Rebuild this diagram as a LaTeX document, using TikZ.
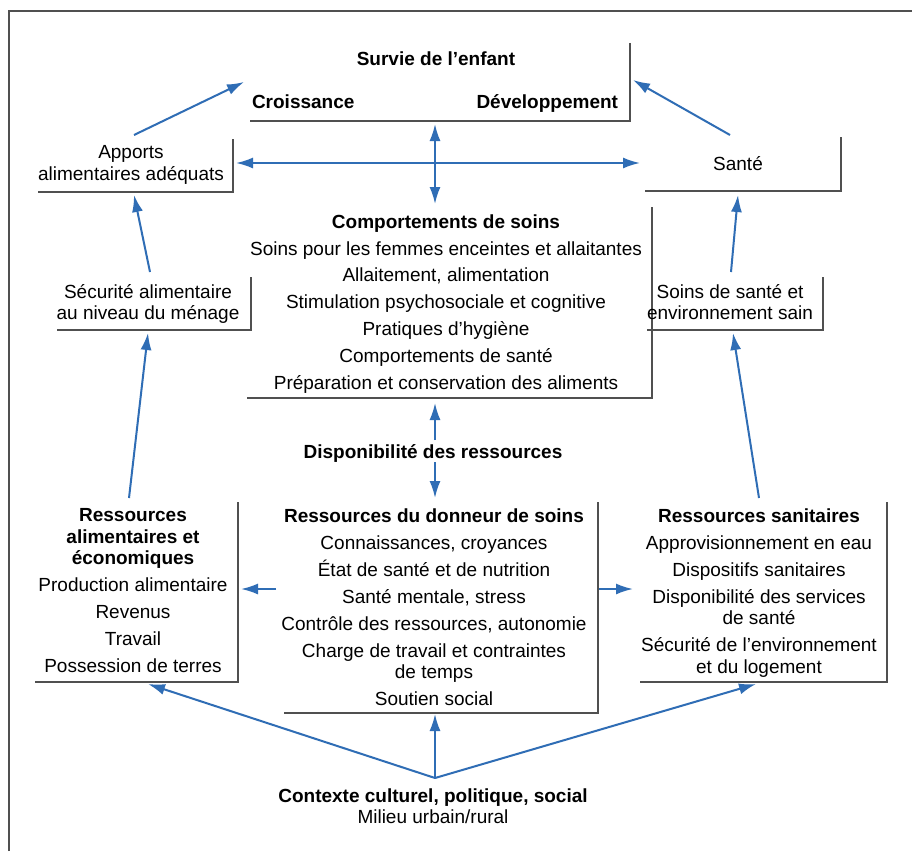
\documentclass[tikz,border=0pt]{standalone}
\usepackage{fontspec}
\setmainfont{Liberation Sans}
\usetikzlibrary{arrows.meta,calc}
\definecolor{arrowblue}{HTML}{2F6DB5}
\definecolor{edgegray}{HTML}{505050}
\newcommand{\mkbox}[5]{%
  \node[inner sep=0pt,outer sep=0pt,minimum width={#4-#2},minimum height={#5-#3}] (#1) at ({(#2+#4)/2},{(#3+#5)/2}) {};
  \draw[edge] (#1.north east) -- (#1.south east) -- (#1.south west);}
\begin{document}
\begin{tikzpicture}[x=1pt,y=-1pt,
  edge/.style={draw=edgegray,line width=2.2pt},
  conn/.style={draw=arrowblue,line width=2pt,-{Latex[length=17pt,width=11pt]}},
  dconn/.style={draw=arrowblue,line width=2pt,{Latex[length=17pt,width=11pt]}-{Latex[length=17pt,width=11pt]}},
  lbl/.style={inner sep=0pt,outer sep=0pt,align=center,anchor=north,font=\fontsize{19}{21.5}\selectfont}]
\useasboundingbox (0,0) rectangle (912,851);
\fill[white] (0,0) rectangle (912,851);
\draw[edge] (9,851) -- (9,11) -- (912,11);

% boxes
\mkbox{survie}{250}{43}{630}{121}
\mkbox{apports}{38}{139}{233}{192}
\mkbox{sante}{645}{137}{841}{191}
\mkbox{comport}{247}{207}{652}{398}
\mkbox{secur}{57}{277}{251}{330}
\mkbox{soins}{647}{277}{823}{330}
\mkbox{ressal}{35}{502}{238}{682}
\mkbox{donneur}{284}{502}{598}{713}
\mkbox{sanit}{640}{502}{887}{682}

% texts
\node[lbl] (tsurvie) at (436,51.5) {\bfseries Survie de l’enfant};
\node[lbl,anchor=north west] (tcroiss) at (252,94.5) {\bfseries Croissance};
\node[lbl,anchor=north east] (tdev) at (618,94.5) {\bfseries Développement};
\node[lbl] (tapports) at (131,145.5) {Apports\\alimentaires adéquats};
\node[lbl] (tsante) at (738,156.5) {Santé};
\node[lbl] (tcomport) at (446,214.5) {\textbf{Comportements de soins}\\[5.3pt]
  Soins pour les femmes enceintes et allaitantes\\[5.3pt]
  Allaitement, alimentation\\[5.3pt]
  Stimulation psychosociale et cognitive\\[5.3pt]
  Pratiques d’hygiène\\[5.3pt]
  Comportements de santé\\[5.3pt]
  Préparation et conservation des aliments};
\node[lbl] (tsecur) at (148,284.5) {Sécurité alimentaire\\au niveau du ménage};
\node[lbl] (tsoins) at (730,284.5) {Soins de santé et\\environnement sain};
\node[lbl] (tdispo) at (433,444.5) {\bfseries Disponibilité des ressources};
\node[lbl] (tressal) at (133,508.5) {\textbf{Ressources}\\\textbf{alimentaires et}\\\textbf{économiques}\\[5.5pt]
  Production alimentaire\\[5.5pt]
  Revenus\\[5.5pt]
  Travail\\[5.5pt]
  Possession de terres};
\node[lbl] (tdonneur) at (434,508.5) {\textbf{Ressources du donneur de soins}\\[5.5pt]
  Connaissances, croyances\\[5.5pt]
  État de santé et de nutrition\\[5.5pt]
  Santé mentale, stress\\[5.5pt]
  Contrôle des ressources, autonomie\\[5.5pt]
  Charge de travail et contraintes\\
  de temps\\[5.5pt]
  Soutien social};
\node[lbl] (tsanit) at (759,508.5) {\textbf{Ressources sanitaires}\\[5.5pt]
  Approvisionnement en eau\\[5.5pt]
  Dispositifs sanitaires\\[5.5pt]
  Disponibilité des services\\
  de santé\\[5.5pt]
  Sécurité de l’environnement\\
  et du logement};
\node[lbl] (tcontexte) at (433,788.5) {\textbf{Contexte culturel, politique, social}\\Milieu urbain/rural};

% connector end points
\coordinate (apUp) at (134,135);   \coordinate (survL) at (244,82);
\coordinate (saUp) at (730,135);   \coordinate (survR) at (633,80);
\coordinate (survB) at (435,124);  \coordinate (compT) at (435,204);
\coordinate (apR) at (236,163);    \coordinate (saL) at (640,163);
\coordinate (secUp) at (150,272);  \coordinate (apB) at (134,195);
\coordinate (soUp) at (731,272);   \coordinate (saB) at (738,195);
\coordinate (dispT) at (435,440);  \coordinate (compB) at (435,403);
\coordinate (dispB) at (435,462);  \coordinate (donT) at (435,498);
\coordinate (raUp) at (129,498);   \coordinate (secB) at (148,333);
\coordinate (sanUp) at (759,498);  \coordinate (soB) at (733,333);
\coordinate (donL) at (276,589);   \coordinate (raR) at (241,589);
\coordinate (donR) at (599,589);   \coordinate (sanL) at (633,589);
\coordinate (ctx) at (435,778);
\coordinate (raB) at (148,684);    \coordinate (sanB) at (756,684);
\coordinate (donB) at (435,714);

% connectors
\draw[conn] (apUp) -- (survL);
\draw[conn] (saUp) -- (survR);
\draw[dconn] (survB) -- (compT);
\draw[dconn] (apR) -- (saL);
\draw[conn] (secUp) -- (apB);
\draw[conn] (soUp) -- (saB);
\draw[conn] (dispT) -- (compB);
\draw[conn] (dispB) -- (donT);
\draw[conn] (raUp) -- (secB);
\draw[conn] (sanUp) -- (soB);
\draw[conn] (donL) -- (raR);
\draw[conn] (donR) -- (sanL);
\draw[conn] (ctx) -- (raB);
\draw[conn] (ctx) -- (sanB);
\draw[conn] (ctx) -- (donB);
\end{tikzpicture}
\end{document}
